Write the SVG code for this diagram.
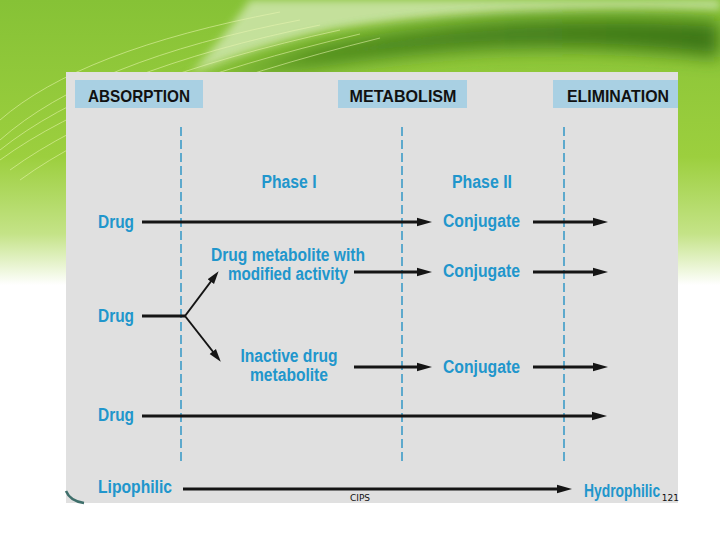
<svg xmlns="http://www.w3.org/2000/svg" width="720" height="540" viewBox="0 0 720 540">
<defs>
<linearGradient id="bg" x1="0" y1="0" x2="0" y2="1">
<stop offset="0" stop-color="#86c236"/>
<stop offset="0.55" stop-color="#9ccf3e"/>
<stop offset="0.82" stop-color="#c4e387"/>
<stop offset="1" stop-color="#ffffff"/>
</linearGradient>
<linearGradient id="band" x1="0" y1="0" x2="1" y2="0">
<stop offset="0" stop-color="#6aa82a" stop-opacity="0"/>
<stop offset="0.3" stop-color="#4d8a1f"/>
<stop offset="1" stop-color="#3d7616"/>
</linearGradient>
<filter id="blur" x="-0.2" y="-0.5" width="1.4" height="2">
<feGaussianBlur stdDeviation="9"/>
</filter>
<filter id="blur2" x="-0.2" y="-0.5" width="1.4" height="2">
<feGaussianBlur stdDeviation="4"/>
</filter>
<marker id="ah" markerUnits="userSpaceOnUse" markerWidth="16" markerHeight="10" refX="2" refY="5" orient="auto">
<path d="M0,0.8 L15,5 L0,9.2 Z" fill="#151515"/>
</marker>
<marker id="ahs" markerUnits="userSpaceOnUse" markerWidth="14" markerHeight="10" refX="2" refY="5" orient="auto">
<path d="M0,1 L13,5 L0,9 Z" fill="#151515"/>
</marker>
</defs>
<style>
.hdr{fill:#a9d0e3}
.ht{font-family:"Liberation Sans",Arial,sans-serif;font-weight:bold;font-size:17px;fill:#111;text-anchor:middle}
.bl{font-family:"Liberation Sans",Arial,sans-serif;font-weight:bold;font-size:18px;fill:#2196cc}
.mid{text-anchor:middle}
.dash{stroke:#3d9cc8;stroke-width:1.6;stroke-dasharray:9 4;fill:none}
.ar{stroke:#151515;stroke-width:3;fill:none;marker-end:url(#ah)}
.br{stroke:#151515;stroke-width:2;fill:none;marker-end:url(#ahs)}
.sm{font-family:"DejaVu Sans",sans-serif;font-size:9px;fill:#111}
</style>
<!-- background slide -->
<rect x="0" y="0" width="720" height="540" fill="#ffffff"/>
<rect x="0" y="0" width="720" height="285" fill="url(#bg)"/>
<path d="M250,0 L720,0 L720,10 Q480,6 330,30 Q260,45 190,75 Q230,30 250,0 Z" fill="#cfe6ad" opacity="0.85" filter="url(#blur2)"/>
<path d="M140,100 Q300,32 520,20 Q640,15 720,22 L720,58 Q600,44 480,50 Q320,60 140,100 Z" fill="url(#band)" filter="url(#blur)"/>
<g stroke="#e8f5b0" stroke-width="0.8" fill="none" opacity="0.7">
<path d="M0,140 Q90,60 300,20"/>
<path d="M0,150 Q100,70 320,25"/>
<path d="M0,160 Q110,80 340,30"/>
<path d="M10,170 Q120,90 360,34"/>
<path d="M20,180 Q130,100 380,38"/>
<path d="M0,120 Q80,50 280,12"/>
</g>
<!-- panel -->
<rect x="66" y="72" width="612" height="431" fill="#e0e0e0"/>
<path d="M66,491 Q70,501 84,503" stroke="#3f6f6b" stroke-width="2.5" fill="none"/>
<!-- headers -->
<g id="absorption"><rect class="hdr" x="75" y="80" width="128" height="28"/><text class="ht" x="139" y="102" textLength="102" lengthAdjust="spacingAndGlyphs">ABSORPTION</text></g>
<g id="metabolism"><rect class="hdr" x="338" y="80" width="129" height="28"/><text class="ht" x="403" y="102" textLength="107" lengthAdjust="spacingAndGlyphs">METABOLISM</text></g>
<g id="elimination"><rect class="hdr" x="553" y="80" width="125" height="28"/><text class="ht" x="618" y="102" textLength="102" lengthAdjust="spacingAndGlyphs">ELIMINATION</text></g>
<!-- dashed separators -->
<g id="separators">
<line class="dash" x1="181" y1="127" x2="181" y2="462"/>
<line class="dash" x1="402" y1="127" x2="402" y2="462"/>
<line class="dash" x1="564" y1="127" x2="564" y2="462"/>
</g>
<g id="phase1"><text class="bl mid" x="289" y="188" textLength="55" lengthAdjust="spacingAndGlyphs">Phase I</text></g>
<g id="phase2"><text class="bl mid" x="482" y="188" textLength="60" lengthAdjust="spacingAndGlyphs">Phase II</text></g>
<!-- nodes -->
<g id="drug1"><text class="bl" x="98" y="228" textLength="36" lengthAdjust="spacingAndGlyphs">Drug</text></g>
<g id="drug2"><text class="bl" x="98" y="322" textLength="36" lengthAdjust="spacingAndGlyphs">Drug</text></g>
<g id="drug3"><text class="bl" x="98" y="421" textLength="36" lengthAdjust="spacingAndGlyphs">Drug</text></g>
<g id="metab-active">
<text class="bl mid" x="288" y="261" textLength="154" lengthAdjust="spacingAndGlyphs">Drug metabolite with</text>
<text class="bl mid" x="288" y="280" textLength="120" lengthAdjust="spacingAndGlyphs">modified activity</text>
</g>
<g id="metab-inactive">
<text class="bl mid" x="289" y="362" textLength="97" lengthAdjust="spacingAndGlyphs">Inactive drug</text>
<text class="bl mid" x="289" y="381" textLength="78" lengthAdjust="spacingAndGlyphs">metabolite</text>
</g>
<g id="conj1"><text class="bl" x="443" y="227" textLength="77" lengthAdjust="spacingAndGlyphs">Conjugate</text></g>
<g id="conj2"><text class="bl" x="443" y="277" textLength="77" lengthAdjust="spacingAndGlyphs">Conjugate</text></g>
<g id="conj3"><text class="bl" x="443" y="373" textLength="77" lengthAdjust="spacingAndGlyphs">Conjugate</text></g>
<g id="lipophilic"><text class="bl" x="98" y="493" textLength="74" lengthAdjust="spacingAndGlyphs">Lipophilic</text></g>
<g id="hydrophilic"><text class="bl" transform="translate(584,497) scale(0.77,1)" x="0" y="0">Hydrophilic</text></g>
<!-- connectors -->
<g id="connectors">
<line class="ar" x1="142" y1="222" x2="419" y2="222"/>
<line class="ar" x1="533" y1="222" x2="595" y2="222"/>
<line class="ar" x1="354" y1="272" x2="419" y2="272"/>
<line class="ar" x1="533" y1="272" x2="595" y2="272"/>
<line class="ar" x1="354" y1="367" x2="419" y2="367"/>
<line class="ar" x1="533" y1="367" x2="595" y2="367"/>
<line class="ar" x1="142" y1="416" x2="594" y2="416"/>
<line class="ar" x1="183" y1="489" x2="559" y2="489"/>
<line stroke="#151515" stroke-width="3" x1="142" y1="316" x2="185" y2="316"/>
<line class="br" x1="185" y1="316" x2="212" y2="280"/>
<line class="br" x1="185" y1="316" x2="214" y2="353"/>
</g>
<text class="sm" x="360" y="501" text-anchor="middle">CIPS</text>
<text class="sm" x="679" y="501" text-anchor="end" font-size="8">121</text>
</svg>
